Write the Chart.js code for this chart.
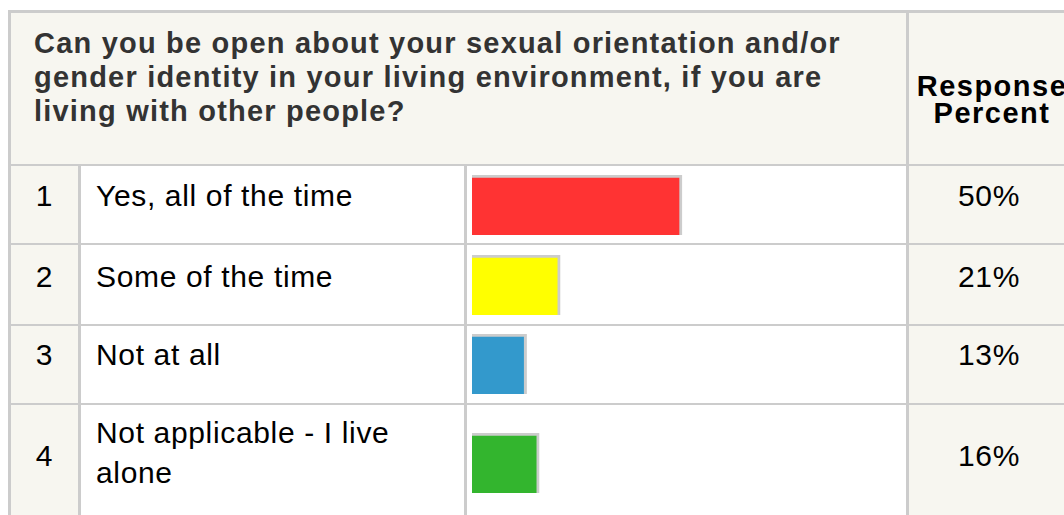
<!DOCTYPE html>
<html>
<head>
<meta charset="utf-8">
<script src="https://cdn.jsdelivr.net/npm/chart.js@4.4.0/dist/chart.umd.min.js"></script>
<style>
  body { margin: 0; background: #fff; font-family: "Liberation Sans", Arial, sans-serif; }
  #page { position: relative; width: 1064px; height: 515px; overflow: hidden; }
  .box { position: absolute; }
  .line { position: absolute; background: #cccccc; }
  .cream { position: absolute; background: #f7f6f0; }
  .txt { position: absolute; white-space: nowrap; font-size: 30px; line-height: 30px; letter-spacing: 0.65px; color: #000; }
  .hd { position: absolute; white-space: nowrap; font-weight: bold; font-size: 29px; line-height: 34px; letter-spacing: 1.2px; }
  .ctr { text-align: center; }
</style>
</head>
<body>
<div id="page"></div>

<script>
// survey data
var question = ['Can you be open about your sexual orientation and/or',
                'gender identity in your living environment, if you are',
                'living with other people?'];
var answers = ['Yes, all of the time', 'Some of the time', 'Not at all', 'Not applicable - I live alone'];
var percents = [50, 21, 13, 16];
var barColors = ['#ff3333', '#ffff00', '#3399cc', '#33b52e'];

// table layout (pixels)
var rowLines = [164, 243, 324, 403];
var barTops = [175, 255, 334, 433];
var textTops = [181, 262, 339.5, 441];

var page = document.getElementById('page');

function add(cls, css, html) {
  var d = document.createElement('div');
  d.className = cls;
  d.style.cssText = css;
  if (html) d.innerHTML = html;
  page.appendChild(d);
  return d;
}

// backgrounds
add('cream', 'left:11px;top:13px;width:1060px;height:151px');
add('cream', 'left:11px;top:166px;width:67px;height:360px');
add('cream', 'left:909px;top:166px;width:160px;height:360px');

// grid lines
add('line', 'left:8px;top:10px;width:1060px;height:3px');
add('line', 'left:8px;top:10px;width:3px;height:520px');
add('line', 'left:906px;top:13px;width:3px;height:520px');
add('line', 'left:78px;top:166px;width:3px;height:360px');
add('line', 'left:464px;top:166px;width:3px;height:360px');
rowLines.forEach(function(y) {
  add('line', 'left:11px;top:' + y + 'px;width:1060px;height:2px');
});

// header text
add('hd', 'left:34px;top:26px;color:#333', question.join('<br>'));
add('hd ctr', 'left:912px;top:73px;width:160px;color:#000;line-height:27px;letter-spacing:1.5px', 'Response<br>Percent');

// row text
answers.forEach(function(a, i) {
  var top = textTops[i];
  add('txt ctr', 'left:11px;width:67px;top:' + top + 'px', String(i + 1));
  add('txt ctr', 'left:909px;width:160px;top:' + top + 'px', percents[i] + '%');
  if (i === 3) {
    add('txt', 'left:96px;top:413px;line-height:40px', 'Not applicable - I live<br>alone');
  } else {
    add('txt', 'left:96px;top:' + top + 'px', a);
  }
});

// one small horizontal bar chart per row
answers.forEach(function(a, i) {
  var holder = add('box', 'left:467px;top:' + (barTops[i] - 2) + 'px;width:439px;height:64px');
  var cv = document.createElement('canvas');
  cv.width = 439;
  cv.height = 64;
  holder.appendChild(cv);

  new Chart(cv, {
    type: 'bar',
    data: {
      labels: [a],
      datasets: [{
        data: [percents[i]],
        backgroundColor: barColors[i],
        borderColor: '#cccccc',
        borderWidth: { top: 3, right: 3, bottom: 0, left: 0 },
        borderSkipped: false,
        barPercentage: 1,
        categoryPercentage: 1
      }]
    },
    options: {
      indexAxis: 'y',
      responsive: false,
      animation: false,
      layout: { padding: { left: 5, right: 14, top: 2, bottom: 2 } },
      scales: {
        x: { display: false, min: 0, max: 100 },
        y: { display: false }
      },
      plugins: {
        legend: { display: false },
        tooltip: { enabled: false }
      }
    }
  });
});
</script>
</body>
</html>
